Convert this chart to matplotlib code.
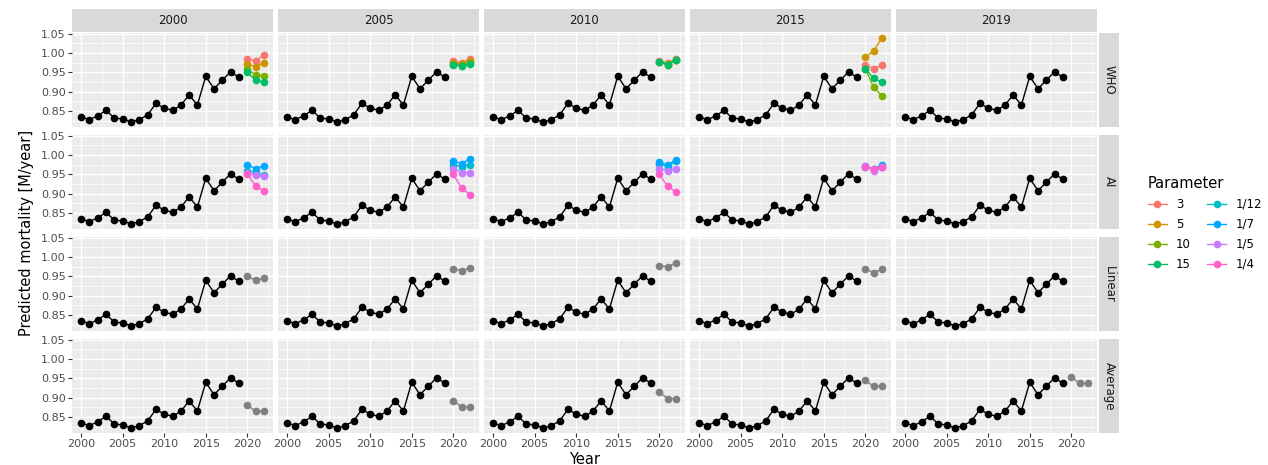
import numpy as np
import matplotlib.pyplot as plt
from matplotlib.lines import Line2D

years = np.arange(2000, 2020)
hist = [0.835, 0.828, 0.838, 0.852, 0.832, 0.830, 0.822, 0.828, 0.840, 0.870,
        0.858, 0.852, 0.865, 0.892, 0.866, 0.940, 0.908, 0.930, 0.952, 0.937]
proj_years = [2020, 2021, 2022]

cols = ['2000', '2005', '2010', '2015', '2019']
rows = ['WHO', 'AI', 'Linear', 'Average']
params = ['3', '5', '10', '15', '1/12', '1/7', '1/5', '1/4']
colors = ['#F8766D', '#CD9600', '#7CAE00', '#00BE67', '#00BFC4', '#00A9FF', '#C77CFF', '#FF61CC']

who = {
    '2000': {'3': [.985, .980, .995], '5': [.972, .965, .975], '10': [.960, .943, .942], '15': [.950, .930, .925]},
    '2005': {'3': [.980, .975, .985], '5': [.975, .972, .980], '10': [.972, .968, .975], '15': [.970, .966, .972]},
    '2010': {'3': [.980, .975, .985], '5': [.978, .970, .983], '10': [.977, .972, .983], '15': [.977, .970, .982]},
    '2015': {'3': [.970, .960, .968], '5': [.990, 1.005, 1.040], '10': [.960, .912, .890], '15': [.960, .935, .925]},
}
ai = {
    '2000': {'1/12': [.960, .955, .948], '1/7': [.975, .965, .972], '1/5': [.955, .948, .945], '1/4': [.952, .920, .907]},
    '2005': {'1/12': [.975, .970, .975], '1/7': [.985, .978, .990], '1/5': [.965, .955, .955], '1/4': [.950, .915, .898]},
    '2010': {'1/12': [.978, .970, .985], '1/7': [.982, .975, .987], '1/5': [.965, .960, .965], '1/4': [.950, .920, .905]},
    '2015': {'1/12': [.970, .965, .970], '1/7': [.972, .965, .975], '1/5': [.972, .960, .968], '1/4': [.970, .965, .970]},
}
linear = {'2000': [.950, .940, .945], '2005': [.970, .965, .972],
          '2010': [.978, .975, .985], '2015': [.970, .960, .968]}
average = {'2000': [.882, .865, .865], '2005': [.892, .877, .876], '2010': [.915, .898, .898],
           '2015': [.945, .930, .930], '2019': [.955, .937, .937]}

W, H = 1268, 465
fig = plt.figure(figsize=(W / 100, H / 100), dpi=100)
col_x = [72, 278, 484, 690, 896]
pw = 201
row_y = [33, 135, 237, 339]
ph = 94
strip_bg = '#D9D9D9'
panel_bg = '#EBEBEB'
ms = 4.5

def ax_at(x, y, w, h):
    return fig.add_axes([x / W, 1 - (y + h) / H, w / W, h / H])

for j, c in enumerate(cols):
    s = ax_at(col_x[j], 9, pw, 23)
    s.set_facecolor(strip_bg); s.set_xticks([]); s.set_yticks([])
    for sp in s.spines.values(): sp.set_visible(False)
    s.text(0.5, 0.5, c, ha='center', va='center', fontsize=8.5, color='#1A1A1A', transform=s.transAxes)

for i, r in enumerate(rows):
    s = ax_at(1099, row_y[i], 20, ph)
    s.set_facecolor(strip_bg); s.set_xticks([]); s.set_yticks([])
    for sp in s.spines.values(): sp.set_visible(False)
    s.text(0.5, 0.5, r, ha='center', va='center', rotation=-90, fontsize=8.5, color='#1A1A1A', transform=s.transAxes)
    for j, c in enumerate(cols):
        ax = ax_at(col_x[j], row_y[i], pw, ph)
        ax.set_facecolor(panel_bg)
        for sp in ax.spines.values(): sp.set_visible(False)
        ax.set_xlim(1998.9, 2023.1)
        ax.set_ylim(0.809, 1.052)
        ax.set_xticks([2000, 2005, 2010, 2015, 2020])
        ax.set_xticks(np.arange(2002.5, 2023, 5), minor=True)
        ax.set_yticks([0.85, 0.90, 0.95, 1.00, 1.05])
        ax.set_yticks(np.arange(0.825, 1.05, 0.05), minor=True)
        ax.grid(which='major', color='white', lw=1.0)
        ax.grid(which='minor', color='white', lw=0.5)
        ax.set_axisbelow(True)
        ax.tick_params(which='both', length=0)
        ax.tick_params(which='major', length=3, color='#333333', labelsize=8, labelcolor='#4D4D4D', pad=1.5)
        if j > 0:
            ax.set_yticklabels([])
            ax.tick_params(axis='y', length=0)
        if i < 3:
            ax.set_xticklabels([])
            ax.tick_params(axis='x', length=0)
        ax.plot(years, hist, color='black', lw=1, marker='o', ms=ms)
        if r == 'WHO' and c in who:
            for p, v in who[c].items():
                ax.plot(proj_years, v, color=colors[params.index(p)], lw=1, marker='o', ms=ms)
        elif r == 'AI' and c in ai:
            for p, v in ai[c].items():
                ax.plot(proj_years, v, color=colors[params.index(p)], lw=1, marker='o', ms=ms)
        elif r == 'Linear' and c in linear:
            ax.plot(proj_years, linear[c], color='grey', lw=1, marker='o', ms=ms)
        elif r == 'Average' and c in average:
            ax.plot(proj_years, average[c], color='grey', lw=1, marker='o', ms=ms)

fig.text(585 / W, 1 - 459 / H, 'Year', ha='center', va='center', fontsize=10.5)
fig.text(27 / W, 1 - 233 / H, 'Predicted mortality [M/year]', ha='center', va='center',
         rotation=90, fontsize=10.5)

handles = [Line2D([0], [0], color=col, marker='o', ms=ms, lw=1) for col in colors]
fig.legend(handles, params, loc='upper left', bbox_to_anchor=(1137 / W, 1 - 165 / H), ncol=2,
           frameon=False, title='Parameter', title_fontsize=10.5, fontsize=8.5,
           handlelength=1.6, columnspacing=1.4, labelspacing=0.6, alignment='left')

fig.savefig('out.png', dpi=100)
